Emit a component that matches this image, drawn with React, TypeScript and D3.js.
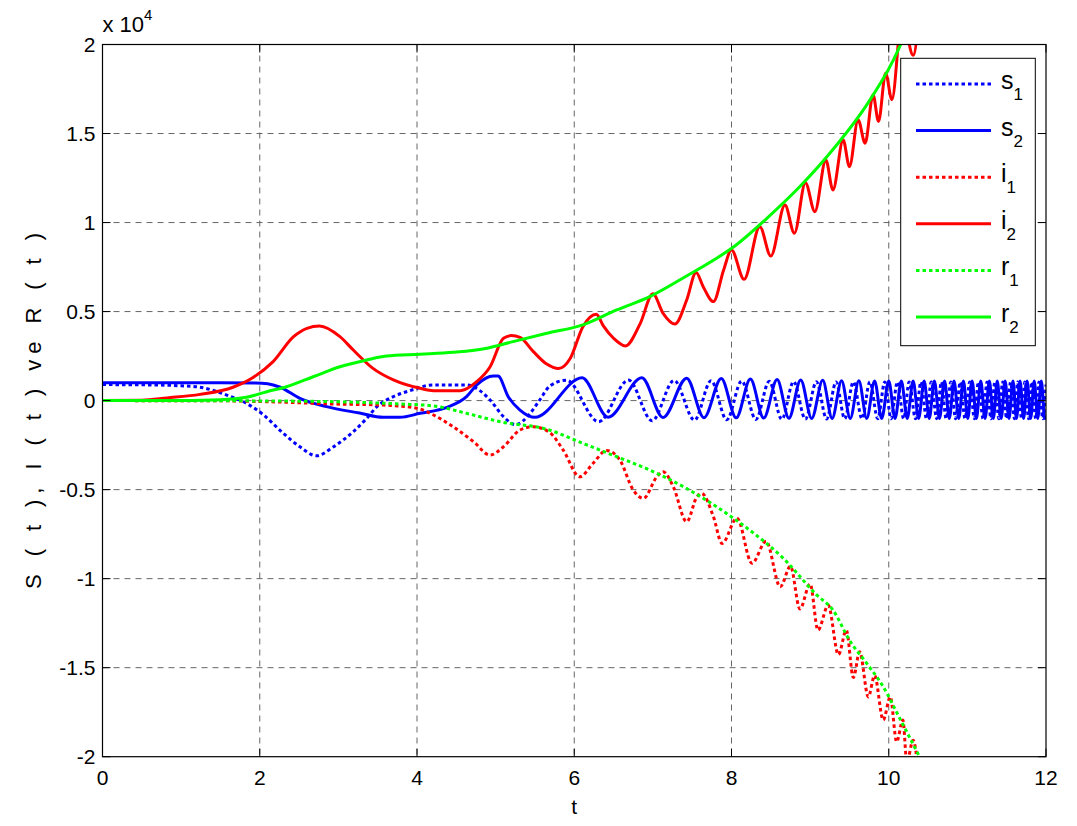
import React from "react";
import * as d3 from "d3";

type P = [number, number];

const xTicks: number[] = [0, 2, 4, 6, 8, 10, 12];
const yTicks: number[] = [-20000, -15000, -10000, -5000, 0, 5000, 10000, 15000, 20000];

const s1: P[] = [
  [0, 900], [0.6, 880], [1.0, 830], [1.24, 750], [1.58, 310], [1.83, -150], [2.05, -810], [2.3, -1840],
  [2.51, -2590], [2.72, -3100], [2.94, -2590], [3.19, -1740], [3.36, -1000], [3.49, -340], [3.7, 220],
  [3.91, 560], [4.21, 880], [4.63, 880], [4.8, 560], [4.93, 30], [5.1, -900], [5.25, -1350], [5.44, -715],
  [5.56, 30], [5.69, 820], [5.9, 1150], [6.31, -1190], [6.69, 1150], [6.99, -1130], [7.27, 1130],
  [7.53, -1100], [7.74, 1120], [7.94, -1080], [8.13, 1100], [8.31, -1060], [8.48, 1080], [8.64, -1050],
  [8.79, 1070], [8.94, -1040], [9.08, 1060], [9.21, -1030], [9.33, 1050], [9.44, -1020], [9.55, 1050],
  [9.66, -1020], [9.76, 1050], [9.86, -1020], [9.95, 1050], [10.03, -1020], [10.11, 1050], [10.19, -1020],
  [10.26, 1050], [10.34, -1020], [10.41, 1050], [10.48, -1020], [10.54, 1050], [10.61, -1020],
  [10.67, 1050], [10.73, -1020], [10.79, 1050], [10.85, -1020], [10.91, 1050], [10.97, -1020],
  [11.03, 1050], [11.09, -1020], [11.14, 1050], [11.2, -1020], [11.25, 1050], [11.3, -1020],
  [11.35, 1050], [11.4, -1020], [11.45, 1050], [11.5, -1020], [11.55, 1050], [11.6, -1020],
  [11.64, 1050], [11.69, -1020], [11.73, 1050], [11.78, -1020], [11.82, 1050], [11.87, -1020],
  [11.91, 1050], [11.96, -1020], [12, 900],
];

const s2: P[] = [
  [0, 1000], [1.5, 1000], [1.95, 990], [2.1, 950], [2.26, 750], [2.51, 130], [2.85, -340], [3.27, -700],
  [3.57, -940], [3.78, -940], [4.04, -715], [4.38, -380], [4.63, 220], [4.76, 880], [4.97, 1380],
  [5.03, 1380], [5.16, 220], [5.31, -530], [5.5, -940], [6.1, 1280], [6.43, -930], [6.86, 1280],
  [7.13, -950], [7.43, 1260], [7.65, -960], [7.87, 1240], [8.06, -970], [8.24, 1210], [8.41, -980],
  [8.58, 1180], [8.73, -990], [8.88, 1160], [9.02, -1000], [9.16, 1140], [9.28, -1000], [9.4, 1120],
  [9.51, -1000], [9.62, 1110], [9.72, -1000], [9.82, 1100], [9.91, -1000], [10.0, 1100], [10.08, -1000],
  [10.16, 1100], [10.235, -1000], [10.31, 1100], [10.38, -1000], [10.45, 1100], [10.515, -1000],
  [10.58, 1100], [10.645, -1000], [10.71, 1100], [10.77, -1000], [10.83, 1100], [10.89, -1000],
  [10.95, 1100], [11.005, -1000], [11.06, 1100], [11.115, -1000], [11.17, 1100], [11.225, -1000],
  [11.28, 1100], [11.33, -1000], [11.38, 1100], [11.43, -1000], [11.48, 1100], [11.53, -1000],
  [11.58, 1100], [11.625, -1000], [11.67, 1100], [11.715, -1000], [11.76, 1100], [11.805, -1000],
  [11.85, 1100], [11.895, -1000], [11.94, 1100], [11.985, -1000], [12, -900],
];

const i1: P[] = [
  [0, 0], [1.5, -10], [2.09, -60], [2.94, -190], [3.57, -250], [4.0, -430], [4.21, -810], [4.46, -1470],
  [4.72, -2310], [4.93, -3060], [5.1, -2590], [5.31, -1650], [5.48, -1470], [5.69, -1800], [5.86, -2780],
  [6.07, -4280], [6.24, -3520], [6.41, -2800], [6.58, -3340], [6.75, -5020], [6.88, -5490], [7.05, -4280],
  [7.13, -3990], [7.26, -4840], [7.43, -6800], [7.56, -5400], [7.62, -5210], [7.77, -6520], [7.88, -8020],
  [8.07, -6600], [8.26, -9140], [8.44, -7900], [8.62, -10460], [8.75, -9300], [8.87, -11700],
  [9.0, -10300], [9.1, -12890], [9.23, -11500], [9.36, -14270], [9.46, -12900], [9.55, -15550],
  [9.63, -14110], [9.74, -16640], [9.82, -15450], [9.93, -17940], [10.02, -16640], [10.1, -19160],
  [10.18, -17940], [10.23, -20300], [10.31, -19070], [10.38, -21000],
];

const i2: P[] = [
  [0, 0], [0.5, 20], [0.82, 150], [1.24, 350], [1.66, 750], [1.92, 1310], [2.17, 2190], [2.43, 3590],
  [2.6, 4060], [2.76, 4190], [3.02, 3590], [3.19, 2840], [3.44, 1810], [3.7, 1160], [4.04, 690],
  [4.21, 560], [4.55, 560], [4.76, 1060], [4.93, 1900], [5.1, 3500], [5.2, 3650], [5.31, 3550],
  [5.48, 2750], [5.65, 2050], [5.8, 1800], [5.95, 2380], [6.11, 4150], [6.28, 4850], [6.37, 4200],
  [6.5, 3500], [6.65, 3070], [6.84, 4340], [7.0, 6000], [7.13, 4900], [7.28, 4300], [7.43, 5650],
  [7.55, 7200], [7.64, 6400], [7.77, 5560], [7.9, 7340], [8.0, 8460], [8.16, 6810], [8.36, 9770],
  [8.5, 8120], [8.68, 10990], [8.8, 9400], [8.94, 12240], [9.06, 10610], [9.2, 13520], [9.29, 11830],
  [9.42, 14640], [9.5, 13140], [9.61, 15770], [9.7, 14460], [9.8, 17180], [9.87, 15680], [9.96, 18390],
  [10.04, 16900], [10.17, 21600], [10.31, 19400], [10.42, 24000],
];

const r1: P[] = [
  [0, 0], [1.5, -10], [2.09, -20], [2.94, -60], [3.78, -190], [4.21, -300], [4.63, -715], [5.06, -1190],
  [5.65, -1610], [6.11, -2400], [6.54, -3150], [6.96, -3900], [7.39, -4840], [7.81, -5960], [8.23, -7270],
  [8.66, -8860], [9.08, -10900], [9.29, -11760], [9.5, -13450], [9.72, -14760], [9.93, -16070],
  [10.14, -17850], [10.39, -20000], [10.5, -21000],
];

const r2: P[] = [
  [0, 0], [1.0, 10], [1.5, 50], [1.83, 185], [2.09, 500], [2.34, 780], [2.68, 1340], [3.02, 1900],
  [3.36, 2280], [3.61, 2500], [4.04, 2600], [4.46, 2710], [4.89, 2940], [5.22, 3310], [5.65, 3780],
  [6.11, 4250], [6.54, 5090], [6.96, 5840], [7.39, 6900], [7.81, 7990], [8.02, 8610], [8.45, 10240],
  [8.87, 12020], [9.29, 14100], [9.72, 16610], [10.06, 19140], [10.3, 21500],
];

const seriesNames: string[] = ["s", "s", "i", "i", "r", "r"];
const seriesSubs: string[] = ["1", "2", "1", "2", "1", "2"];
const seriesData: P[][] = [s1, s2, i1, i2, r1, r2];
const seriesColors: string[] = ["#0000ff", "#0000ff", "#ff0000", "#ff0000", "#00ff00", "#00ff00"];
const seriesDotted: boolean[] = [true, false, true, false, true, false];

const FONT = "'Liberation Sans', Arial, Helvetica, sans-serif";

export default function App() {
  const W = 1077, H = 826;
  const L = 102.5, R = 1046, T = 44.5, B = 756.7;
  const x = d3.scaleLinear().domain([0, 12]).range([L, R]);
  const y = d3.scaleLinear().domain([-20000, 20000]).range([B, T]);
  const line = d3.line<P>().x(d => x(d[0])).y(d => y(d[1])).curve(d3.curveMonotoneX);
  const fmt = (v: number) => String(v / 10000);
  const tick = 8;

  const legX = 900.7, legY = 58.3, legW = 134.6, legH = 287.4;
  const legStep = 46.6, legFirst = 84;

  return (
    <svg width={W} height={H} style={{ position: "absolute", left: 0, top: 0, background: "#fff" }}
      fontFamily={FONT}>
      <defs>
        <clipPath id="plot">
          <rect x={L} y={T} width={R - L} height={B - T} />
        </clipPath>
      </defs>
      <rect x={0} y={0} width={W} height={H} fill="#fff" />
      <g stroke="#666" strokeWidth={1} strokeDasharray="6,5">
        {xTicks.slice(1, -1).map(t => (
          <line key={"gx" + t} x1={x(t)} x2={x(t)} y1={T} y2={B} />
        ))}
        {yTicks.slice(1, -1).map(t => (
          <line key={"gy" + t} x1={L} x2={R} y1={y(t)} y2={y(t)} />
        ))}
      </g>
      <g clipPath="url(#plot)" fill="none">
        {seriesData.map((d, k) => (
          <path key={"s" + k} d={line(d) || ""} stroke={seriesColors[k]} strokeWidth={3}
            strokeDasharray={seriesDotted[k] ? "3.5,3" : undefined} strokeLinejoin="round" />
        ))}
      </g>
      <rect x={L} y={T} width={R - L} height={B - T} fill="none" stroke="#000" strokeWidth={1.2} />
      <g stroke="#000" strokeWidth={1}>
        {xTicks.map(t => (
          <g key={"tx" + t}>
            <line x1={x(t)} x2={x(t)} y1={B} y2={B - tick} />
            <line x1={x(t)} x2={x(t)} y1={T} y2={T + tick} />
          </g>
        ))}
        {yTicks.map(t => (
          <g key={"ty" + t}>
            <line x1={L} x2={L + tick} y1={y(t)} y2={y(t)} />
            <line x1={R} x2={R - tick} y1={y(t)} y2={y(t)} />
          </g>
        ))}
      </g>
      <g fontSize={21} fill="#000">
        {xTicks.map(t => (
          <text key={"lx" + t} x={x(t)} y={B + 28} textAnchor="middle">{t}</text>
        ))}
        {yTicks.map(t => (
          <text key={"ly" + t} x={L - 7} y={y(t) + 7.5} textAnchor="end">{fmt(t)}</text>
        ))}
        <text x={L} y={31.5} fontSize={22}>x 10<tspan fontSize={15} dy={-12}>4</tspan></text>
        <text x={x(6)} y={814} textAnchor="middle">t</text>
        <text transform={`translate(41, 411) rotate(-90)`} textAnchor="middle" textLength={356}
          lengthAdjust="spacing" fontSize={22}>S ( t ), I ( t ) ve R ( t )</text>
      </g>
      <rect x={legX} y={legY} width={legW} height={legH} fill="#fff" stroke="#000" strokeWidth={1} />
      {seriesNames.map((n, k) => {
        const ly = legFirst + k * legStep;
        return (
          <g key={"leg" + k}>
            <line x1={916} x2={991} y1={ly} y2={ly} stroke={seriesColors[k]} strokeWidth={3}
              strokeDasharray={seriesDotted[k] ? "3.5,3" : undefined} />
            <text x={1001} y={ly + 5} fontSize={25} fill="#000">{n}<tspan fontSize={17} dy={11}>{seriesSubs[k]}</tspan></text>
          </g>
        );
      })}
    </svg>
  );
}
